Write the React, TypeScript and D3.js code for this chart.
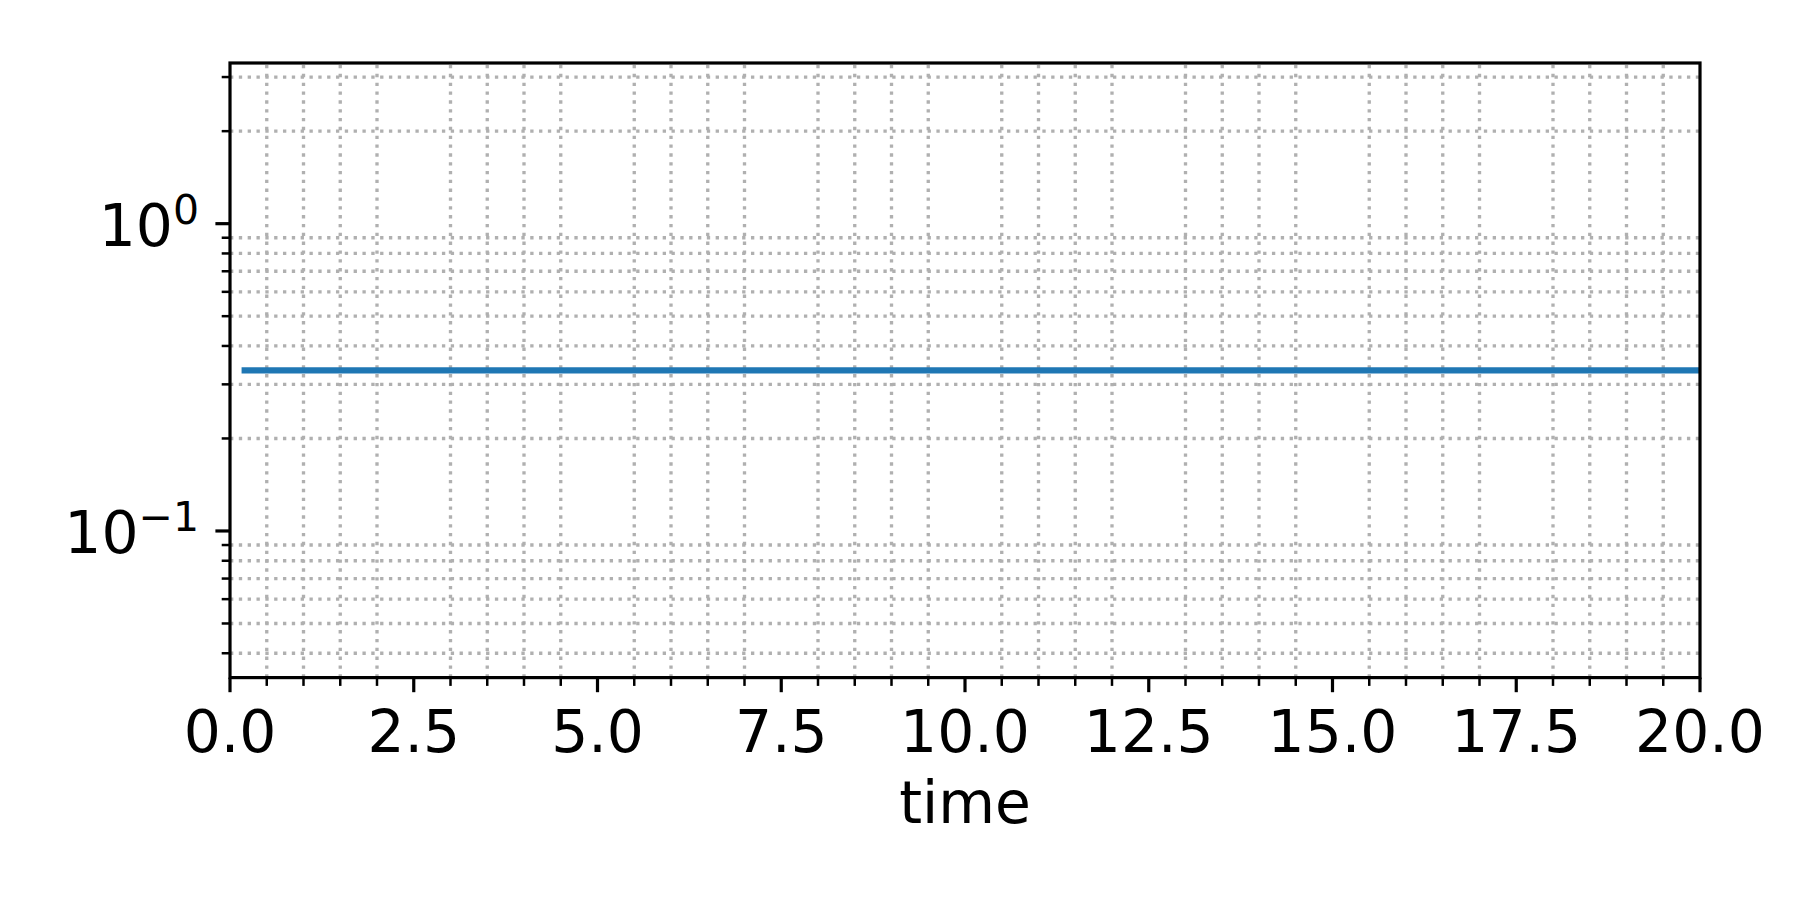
import React from "react";
import * as d3 from "d3";

const timePoints = [0.2, 5, 10, 15, 20];
const seriesValues = [0.3333, 0.3333, 0.3333, 0.3333, 0.3333];
const xMajorTicks = [0, 2.5, 5, 7.5, 10, 12.5, 15, 17.5, 20];
const yMajorTicks = [0.1, 1];
const yMajorExponents = ["\u22121", "0"];
const xLabel = "time";

const W = 1800;
const H = 900;
const L = 230;
const R = 1700;
const T = 63;
const B = 677.6;

const FONT = "'DejaVu Sans', Verdana, sans-serif";

export default function App() {
  const x = d3.scaleLinear().domain([0, 20]).range([L, R]);
  const y = d3.scaleLog().domain([0.03333, 3.333]).range([B, T]);

  const xMinor = d3.range(0, 20.001, 0.5).filter((v) => Math.abs(v / 2.5 - Math.round(v / 2.5)) > 1e-6);
  const yMinor: number[] = [];
  for (let e = -2; e <= 0; e++) {
    for (let m = 2; m <= 9; m++) {
      const v = m * Math.pow(10, e);
      if (v >= 0.03333 && v <= 3.333) yMinor.push(v);
    }
  }

  const line = d3
    .line<number>()
    .x((_, i) => x(timePoints[i]))
    .y((d) => y(d));

  const gridStyle = {
    stroke: "#b0b0b0",
    strokeWidth: 3.33,
    strokeDasharray: "3.33,5.5",
    fill: "none",
  };

  return (
    <svg
      width={W}
      height={H}
      style={{ position: "absolute", left: 0, top: 0, background: "#fff" }}
    >
      <rect x={0} y={0} width={W} height={H} fill="#fff" />
      <defs>
        <clipPath id="plotclip">
          <rect x={L} y={T} width={R - L} height={B - T} />
        </clipPath>
      </defs>
      {/* grid (minor only) */}
      <g>
        {xMinor.map((v) => (
          <line key={"gx" + v} x1={x(v)} x2={x(v)} y1={B} y2={T} style={gridStyle} />
        ))}
        {yMinor.map((v) => (
          <line key={"gy" + v} x1={L} x2={R} y1={y(v)} y2={y(v)} style={gridStyle} />
        ))}
      </g>
      {/* series */}
      <g clipPath="url(#plotclip)">
        <path
          d={line(seriesValues) || ""}
          fill="none"
          stroke="#1f77b4"
          strokeWidth={6.25}
          strokeLinecap="square"
          strokeLinejoin="round"
        />
      </g>
      {/* spines */}
      <rect x={L} y={T} width={R - L} height={B - T} fill="none" stroke="#000" strokeWidth={3.2} />
      {/* x ticks */}
      <g>
        {xMajorTicks.map((v) => (
          <g key={"xt" + v}>
            <line x1={x(v)} x2={x(v)} y1={B} y2={B + 14.6} stroke="#000" strokeWidth={3.2} />
            <text
              x={x(v)}
              y={752}
              textAnchor="middle"
              fontFamily={FONT}
              fontSize={58.3}
              fill="#000"
            >
              {v.toFixed(1)}
            </text>
          </g>
        ))}
        {xMinor.map((v) => (
          <line key={"xm" + v} x1={x(v)} x2={x(v)} y1={B} y2={B + 8.3} stroke="#000" strokeWidth={2.5} />
        ))}
      </g>
      {/* y ticks */}
      <g>
        {yMajorTicks.map((v, i) => (
          <g key={"yt" + v}>
            <line x1={L - 14.6} x2={L} y1={y(v)} y2={y(v)} stroke="#000" strokeWidth={3.2} />
            <text
              x={199}
              y={y(v) + 22}
              textAnchor="end"
              fontFamily={FONT}
              fontSize={58.3}
              fill="#000"
            >
              10
              <tspan fontSize={41} dy={-22}>
                {yMajorExponents[i]}
              </tspan>
            </text>
          </g>
        ))}
        {yMinor.map((v) => (
          <line key={"ym" + v} x1={L - 8.3} x2={L} y1={y(v)} y2={y(v)} stroke="#000" strokeWidth={2.5} />
        ))}
      </g>
      {/* x label */}
      <text
        x={(L + R) / 2}
        y={823}
        textAnchor="middle"
        fontFamily={FONT}
        fontSize={58.3}
        fill="#000"
      >
        {xLabel}
      </text>
    </svg>
  );
}
